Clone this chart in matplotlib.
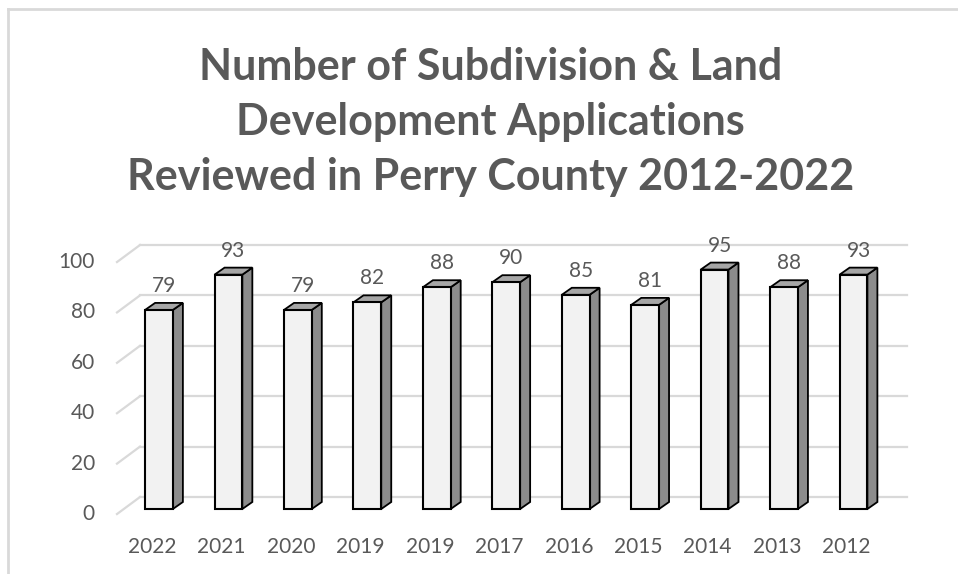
import matplotlib.pyplot as plt
from matplotlib.patches import Polygon
from matplotlib.lines import Line2D

# dados
anos = ['2022', '2021', '2020', '2019', '2019', '2017', '2016', '2015', '2014', '2013', '2012']
valores = [79, 93, 79, 82, 88, 90, 85, 81, 95, 88, 93]
ticks_y = [0, 20, 40, 60, 80, 100]
titulo = 'Number of Subdivision & Land\nDevelopment Applications\nReviewed in Perry County 2012-2022'

plt.rcParams['font.family'] = ['Lato', 'DejaVu Sans']
cor_texto = '#595959'
cor_grade = '#d9d9d9'

fig = plt.figure(figsize=(9.58, 5.74), dpi=100)
ax = fig.add_axes([0, 0, 1, 1])
# escala: x em categorias, y em valores (plano da frente das barras)
px_x = 69.45   # pixels por categoria
px_y = 2.52    # pixels por unidade
x0, y0 = 159, 509
ax.set_xlim(-x0 / px_x, (958 - x0) / px_x)
ax.set_ylim(-(574 - y0) / px_y, y0 / px_y)
ax.axis('off')

# deslocamentos 3D (em unidades de dados)
frente = (-0.10, -2.0)   # parede da frente
fundo = (0.23, 4.76)     # parede do fundo
prof = (0.144, 2.78)     # profundidade da barra
larg = 0.40

# grade no fundo + linhas inclinadas na lateral esquerda
x_fundo_ini = (140 - x0) / px_x
x_fundo_fim = (907 - x0) / px_x
x_frente = (117 - x0) / px_x
for t in ticks_y:
    ax.add_line(Line2D([x_fundo_ini, x_fundo_fim], [t + fundo[1], t + fundo[1]],
                       color=cor_grade, lw=1.6, zorder=1))
    ax.add_line(Line2D([x_frente, x_fundo_ini], [t + frente[1], t + fundo[1]],
                       color=cor_grade, lw=1.6, zorder=1))
    ax.text((95 - x0) / px_x, t + frente[1], str(t), ha='right', va='center',
            fontsize=15, color=cor_texto)

# barras 3D
for i, v in enumerate(valores):
    esq, dir_ = i - larg / 2, i + larg / 2
    dx, dy = prof
    lado = Polygon([(dir_, 0), (dir_ + dx, dy), (dir_ + dx, v + dy), (dir_, v)],
                   closed=True, facecolor='#8c8c8c', edgecolor='black', lw=1.3, zorder=3)
    topo = Polygon([(esq, v), (dir_, v), (dir_ + dx, v + dy), (esq + dx, v + dy)],
                   closed=True, facecolor='#a6a6a6', edgecolor='black', lw=1.3, zorder=3)
    face = Polygon([(esq, 0), (dir_, 0), (dir_, v), (esq, v)],
                   closed=True, facecolor='#f2f2f2', edgecolor='black', lw=1.5, zorder=4)
    ax.add_patch(lado)
    ax.add_patch(topo)
    ax.add_patch(face)
    ax.text(i + dx / 2, v + dy + 2.8, str(v), ha='center', va='bottom',
            fontsize=15, color=cor_texto, zorder=5)
    ax.text(i + frente[0], -15.2, anos[i], ha='center', va='center',
            fontsize=15, color=cor_texto)

fig.text(0.512, 0.787, titulo, ha='center', va='center', fontsize=31,
         fontweight='bold', color=cor_texto, linespacing=1.45)

# moldura (topo e esquerda)
fig.add_artist(Line2D([8 / 958, 8 / 958], [0, 1 - 9 / 574], transform=fig.transFigure,
                      color=cor_grade, lw=2))
fig.add_artist(Line2D([8 / 958, 1], [1 - 9 / 574, 1 - 9 / 574], transform=fig.transFigure,
                      color=cor_grade, lw=2))

fig.savefig('out.png', dpi=100)
